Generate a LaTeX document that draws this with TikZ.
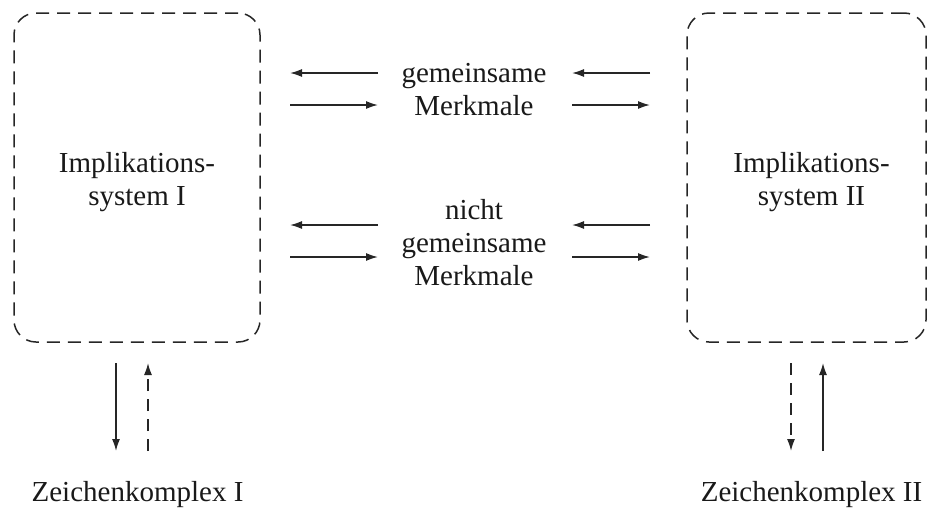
\documentclass[tikz,border=0pt]{standalone}
\usepackage{fontspec}
\setmainfont{Liberation Serif}
\usetikzlibrary{arrows.meta}
\begin{document}
\begin{tikzpicture}[x=1pt,y=-1pt,
  sysbox/.style={draw=black!85,line width=1.5pt,dash pattern=on 13pt off 8pt,rounded corners=22pt,minimum width=#1,minimum height=329pt,inner sep=0pt},
  lbl/.style={font=\fontsize{29}{33}\selectfont,align=center,inner sep=0pt,text=black!90},
  arr/.style={draw=black!85,line width=1.5pt,-{Latex[length=12pt,width=8pt]}},
  darr/.style={arr,dash pattern=on 12pt off 8pt}]
\useasboundingbox (0,0) rectangle (928,509);
% boxes
\node[sysbox=246pt] (b1) at (137,177.5) {};
\node[sysbox=239pt] (b2) at (806.5,177.5) {};
\node[lbl] (t1) at (137,182) {Implikations-\\system I};
\node[lbl] (t2) at (811.5,182) {Implikations-\\system II};
% middle labels
\node[lbl] (gm) at (474,89.5) {gemeinsame\\Merkmale};
\node[lbl] (ngm) at (474,243) {nicht\\gemeinsame\\Merkmale};
% bottom labels
\node[lbl,anchor=base] (z1) at (137.5,501) {Zeichenkomplex I};
\node[lbl,anchor=base] (z2) at (811.5,501) {Zeichenkomplex II};
% arrow end coordinates
\coordinate (a1l) at (290,73);  \coordinate (a1r) at (378,73);
\coordinate (a2l) at (290,105); \coordinate (a2r) at (378,105);
\coordinate (a3l) at (572,73);  \coordinate (a3r) at (650,73);
\coordinate (a4l) at (572,105); \coordinate (a4r) at (650,105);
\coordinate (c1l) at (290,225); \coordinate (c1r) at (378,225);
\coordinate (c2l) at (290,257); \coordinate (c2r) at (378,257);
\coordinate (c3l) at (572,225); \coordinate (c3r) at (650,225);
\coordinate (c4l) at (572,257); \coordinate (c4r) at (650,257);
\coordinate (v1t) at (116,363); \coordinate (v1b) at (116,451);
\coordinate (v2t) at (148,363); \coordinate (v2b) at (148,451);
\coordinate (v3t) at (791,363); \coordinate (v3b) at (791,451);
\coordinate (v4t) at (823,363); \coordinate (v4b) at (823,451);
% horizontal arrows
\draw[arr] (a1r) -- (a1l);
\draw[arr] (a2l) -- (a2r);
\draw[arr] (a3r) -- (a3l);
\draw[arr] (a4l) -- (a4r);
\draw[arr] (c1r) -- (c1l);
\draw[arr] (c2l) -- (c2r);
\draw[arr] (c3r) -- (c3l);
\draw[arr] (c4l) -- (c4r);
% vertical arrows
\draw[arr] (v1t) -- (v1b);
\draw[darr] (v2b) -- (v2t);
\draw[darr] (v3t) -- (v3b);
\draw[arr] (v4b) -- (v4t);
\end{tikzpicture}
\end{document}
